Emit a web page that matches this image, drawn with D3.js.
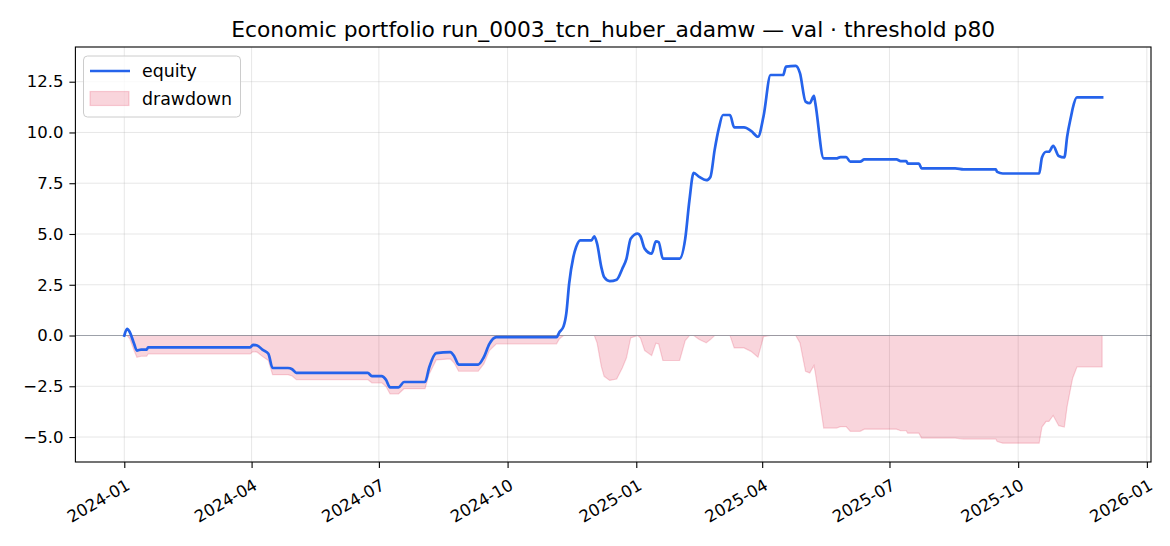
<!DOCTYPE html>
<html>
<head>
<meta charset="utf-8">
<script src="https://cdn.jsdelivr.net/npm/d3@7"></script>
<style>
  body { margin: 0; background: #fff; }
  svg { display: block; font-family: "DejaVu Sans", sans-serif; }
</style>
</head>
<body>
<svg id="chart" width="1170" height="546"></svg>
<script>
const title = "Economic portfolio run_0003_tcn_huber_adamw — val · threshold p80";

const dates = [
  "2024-01-01","2024-01-03","2024-01-05","2024-01-08","2024-01-10","2024-01-13","2024-01-17","2024-01-18",
  "2024-03-31","2024-04-02","2024-04-05","2024-04-09","2024-04-13","2024-04-16","2024-04-27","2024-04-30","2024-05-03",
  "2024-06-23","2024-06-26","2024-07-03","2024-07-06","2024-07-09","2024-07-15","2024-07-19",
  "2024-08-03","2024-08-06","2024-08-11","2024-08-21","2024-08-24","2024-08-27",
  "2024-09-10","2024-09-14","2024-09-18","2024-09-23",
  "2024-11-05","2024-11-07","2024-11-10","2024-11-12","2024-11-14","2024-11-17","2024-11-19","2024-11-22","2024-11-30",
  "2024-12-02","2024-12-04","2024-12-07","2024-12-09","2024-12-13","2024-12-18","2024-12-22","2024-12-25","2024-12-28",
  "2025-01-02","2025-01-04","2025-01-07","2025-01-12","2025-01-15","2025-01-17","2025-01-20",
  "2025-02-01","2025-02-05","2025-02-08","2025-02-11","2025-02-15","2025-02-20","2025-02-23","2025-02-26",
  "2025-03-01","2025-03-04","2025-03-09","2025-03-12","2025-03-19","2025-03-24","2025-03-29",
  "2025-04-02","2025-04-07","2025-04-16","2025-04-18","2025-04-25","2025-04-28",
  "2025-05-02","2025-05-05","2025-05-08","2025-05-09","2025-05-15","2025-05-24","2025-05-27","2025-05-31",
  "2025-06-03","2025-06-10","2025-06-13",
  "2025-07-06","2025-07-09","2025-07-13","2025-07-14","2025-07-22","2025-07-24",
  "2025-08-17","2025-08-23",
  "2025-09-15","2025-09-16","2025-09-20",
  "2025-10-16","2025-10-18","2025-10-21","2025-10-23","2025-10-26","2025-10-30",
  "2025-11-03","2025-11-05","2025-11-08","2025-11-09","2025-11-12","2025-11-30"
];

const equity = [
  0.00, 0.33, 0.16, -0.41, -0.74, -0.69, -0.69, -0.58,
  -0.58, -0.46, -0.49, -0.71, -0.90, -1.60, -1.60, -1.66, -1.84,
  -1.84, -2.00, -2.00, -2.17, -2.55, -2.55, -2.29,
  -2.29, -1.56, -0.87, -0.82, -1.04, -1.43,
  -1.43, -1.07, -0.41, -0.08,
  -0.08, 0.16, 0.45, 1.10, 2.55, 3.86, 4.36, 4.69, 4.69,
  4.89, 4.52, 3.37, 2.88, 2.68, 2.75, 3.29, 3.79, 4.77,
  5.02, 4.89, 4.28, 4.03, 4.64, 4.60, 3.79,
  3.79, 4.77, 6.66, 8.01, 7.81, 7.65, 7.81, 9.13,
  10.20, 10.86, 10.86, 10.25, 10.25, 10.08, 9.79,
  10.81, 12.83, 12.83, 13.24, 13.28, 12.92,
  11.52, 11.44, 11.80, 11.44, 8.72, 8.72, 8.79, 8.79,
  8.56, 8.56, 8.67,
  8.67, 8.59, 8.59, 8.47, 8.47, 8.23,
  8.23, 8.18,
  8.18, 8.06, 7.98,
  7.98, 8.77, 9.05, 9.05, 9.34, 8.84,
  8.77, 9.79, 10.86, 11.19, 11.73, 11.73
];

const yTicks = [-5.0, -2.5, 0.0, 2.5, 5.0, 7.5, 10.0, 12.5];
const xTickLabels = ["2024-01","2024-04","2024-07","2024-10","2025-01","2025-04","2025-07","2025-10","2026-01"];

// drawdown = equity below its running peak
let peak = -Infinity;
const rows = dates.map((d, i) => {
  peak = Math.max(peak, equity[i]);
  return { date: new Date(d + "T00:00:00Z"), eq: equity[i], dd: equity[i] - peak };
});

const svg = d3.select("#chart");
const margin = { left: 75.4, right: 1151, top: 47, bottom: 462 };
const font = "DejaVu Sans";
const tickFs = 16.5;
const legendFs = 17.4;

// matplotlib-like 5% padding around the data
const xExt = d3.extent(rows, d => d.date);
const xPad = (xExt[1] - xExt[0]) * 0.05;
const x = d3.scaleUtc()
  .domain([new Date(+xExt[0] - xPad), new Date(+xExt[1] + xPad)])
  .range([margin.left, margin.right]);

const yMin = d3.min(rows, d => Math.min(d.eq, d.dd));
const yMax = d3.max(rows, d => Math.max(d.eq, d.dd));
const yPad = (yMax - yMin) * 0.05;
const y = d3.scaleLinear()
  .domain([yMin - yPad, yMax + yPad])
  .range([margin.bottom, margin.top]);

const xTickDates = xTickLabels.map(s => new Date(s + "-01T00:00:00Z"));

// grid
const grid = svg.append("g");
grid.selectAll(".gx")
  .data(xTickDates)
  .enter().append("line")
    .attr("x1", d => x(d)).attr("x2", d => x(d))
    .attr("y1", margin.top).attr("y2", margin.bottom)
    .attr("stroke", "#b0b0b0").attr("stroke-opacity", 0.3).attr("stroke-width", 1);
grid.selectAll(".gy")
  .data(yTicks)
  .enter().append("line")
    .attr("x1", margin.left).attr("x2", margin.right)
    .attr("y1", d => y(d)).attr("y2", d => y(d))
    .attr("stroke", "#b0b0b0").attr("stroke-opacity", 0.3).attr("stroke-width", 1);

// drawdown area
const area = d3.area()
  .x(d => x(d.date))
  .y0(y(0))
  .y1(d => y(d.dd));
svg.append("path")
  .datum(rows)
  .attr("d", area)
  .attr("fill", "#dc143c").attr("fill-opacity", 0.18)
  .attr("stroke", "#dc143c").attr("stroke-opacity", 0.18).attr("stroke-width", 1.2);

// zero line
svg.append("line")
  .attr("x1", margin.left).attr("x2", margin.right)
  .attr("y1", y(0)).attr("y2", y(0))
  .attr("stroke", "#8a8f99").attr("stroke-opacity", 0.8).attr("stroke-width", 1.1);

// equity line
const line = d3.line()
  .x(d => x(d.date))
  .y(d => y(d.eq))
  .curve(d3.curveMonotoneX);
svg.append("path")
  .datum(rows)
  .attr("d", line)
  .attr("fill", "none")
  .attr("stroke", "#2563eb").attr("stroke-width", 2.7)
  .attr("stroke-linejoin", "round").attr("stroke-linecap", "square");

// axes
const xAxis = d3.axisBottom(x)
  .tickValues(xTickDates)
  .tickFormat(d3.utcFormat("%Y-%m"))
  .tickSize(6).tickPadding(5);
const gx = svg.append("g")
  .attr("transform", `translate(0,${margin.bottom})`)
  .call(xAxis)
  .attr("font-family", font);
gx.select(".domain").remove();
gx.selectAll(".tick line").attr("stroke", "#000").attr("stroke-width", 1.1);
gx.selectAll(".tick text")
  .attr("font-size", tickFs).attr("fill", "#000")
  .attr("text-anchor", "end")
  .attr("dy", "0.35em")
  .attr("transform", "translate(-2,12) rotate(-30)");

const yAxis = d3.axisLeft(y)
  .tickValues(yTicks)
  .tickFormat(d3.format(".1f"))
  .tickSize(6).tickPadding(6);
const gy = svg.append("g")
  .attr("transform", `translate(${margin.left},0)`)
  .call(yAxis)
  .attr("font-family", font);
gy.select(".domain").remove();
gy.selectAll(".tick line").attr("stroke", "#000").attr("stroke-width", 1.1);
gy.selectAll(".tick text").attr("font-size", tickFs).attr("fill", "#000");

// frame
svg.append("rect")
  .attr("x", margin.left).attr("y", margin.top)
  .attr("width", margin.right - margin.left).attr("height", margin.bottom - margin.top)
  .attr("fill", "none").attr("stroke", "#000").attr("stroke-width", 1.1);

// title
svg.append("text")
  .attr("x", (margin.left + margin.right) / 2).attr("y", 37)
  .attr("text-anchor", "middle")
  .attr("font-family", font)
  .attr("font-size", 21.8).attr("fill", "#000")
  .text(title);

// legend
const lg = svg.append("g").attr("font-family", font);
lg.append("rect")
  .attr("x", 83.5).attr("y", 56).attr("width", 157).attr("height", 61)
  .attr("rx", 4)
  .attr("fill", "#fff").attr("fill-opacity", 0.8)
  .attr("stroke", "#cccccc").attr("stroke-width", 1);
lg.append("line")
  .attr("x1", 90).attr("x2", 130).attr("y1", 71).attr("y2", 71)
  .attr("stroke", "#2563eb").attr("stroke-width", 2.7);
lg.append("text")
  .attr("x", 142).attr("y", 77)
  .attr("font-size", legendFs).attr("fill", "#000")
  .text("equity");
lg.append("rect")
  .attr("x", 90).attr("y", 91.5).attr("width", 39).attr("height", 14)
  .attr("fill", "#dc143c").attr("fill-opacity", 0.18)
  .attr("stroke", "#dc143c").attr("stroke-opacity", 0.18).attr("stroke-width", 1.2);
lg.append("text")
  .attr("x", 142).attr("y", 104.5)
  .attr("font-size", legendFs).attr("fill", "#000")
  .text("drawdown");
</script>
</body>
</html>
